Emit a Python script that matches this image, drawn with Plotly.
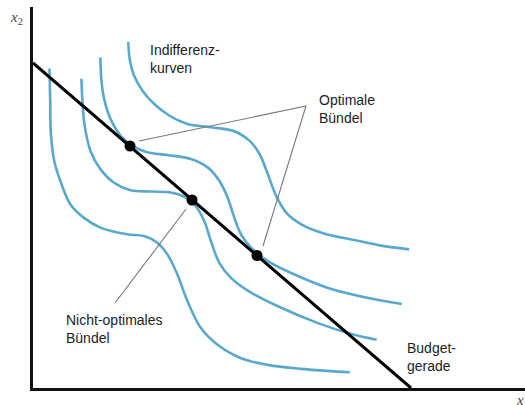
import plotly.graph_objects as go

# Indifference curves (x1, x2)
ic1_x = [16.5, 17.2, 17.9, 21.2, 27.3, 37.3, 50.7, 67.4, 94.2, 111, 124.3, 134.4, 144.4, 154.5, 167.9, 184.6, 208, 234.8, 268.3, 316.9]
ic1_y = [319.4, 287.6, 254.1, 227.3, 207.2, 183.8, 170.4, 160.4, 153.7, 152, 145.3, 133.6, 113.5, 86.7, 59.9, 43.2, 29.8, 23.1, 19.1, 15.7]
ic2_x = [48.4, 49.4, 51.4, 57.4, 67.4, 80.8, 97.6, 117.7, 137.7, 149.5, 161.2, 171.2, 177.9, 186.3, 198, 214.7, 244.9, 285, 318.5, 343.6]
ic2_y = [309.3, 287.6, 264.1, 237.3, 218.9, 205.5, 197.8, 196.5, 195.5, 192.1, 183.8, 167, 147, 125.2, 110.1, 97.4, 81.7, 64.9, 53.9, 48.2]
ic3_x = [67.4, 68.4, 71.5, 77.5, 87.5, 99.2, 114.3, 134.4, 157.8, 174.6, 186.3, 194.6, 201.3, 208, 218.1, 234.8, 261.6, 295.1, 335.3, 368.7]
ic3_y = [330.4, 307.7, 287.6, 269.1, 252.4, 242.4, 235.7, 233, 229, 220.6, 207.2, 190.5, 170.4, 153.7, 140.3, 126.9, 113.5, 100.1, 90, 84]
ic4_x = [95.2, 96.9, 100.9, 109.3, 121, 136.1, 154.5, 177.9, 201.3, 216.4, 226.5, 234.8, 243.2, 253.2, 268.3, 291.7, 318.5, 345.3, 376.1]
ic4_y = [346.2, 327.7, 312.7, 297.6, 284.2, 272.5, 264.1, 260.8, 256.8, 247.4, 234, 213.9, 192.1, 175.4, 163.7, 154.3, 148.6, 142.9, 138.6]

# Budget line endpoints
budget_x = [0, 378]
budget_y = [325, 0]

# Bundles
bundle_x = [97, 159, 224]
bundle_y = [242, 188, 132.5]

# Leader lines
opt_lead_x = [106, 273, 230]
opt_lead_y = [247, 282, 142]
nopt_lead_x = [153, 82]
nopt_lead_y = [179, 85]

BLUE = "#5BA8CE"
fig = go.Figure()
for xs, ys in [(ic1_x, ic1_y), (ic2_x, ic2_y), (ic3_x, ic3_y), (ic4_x, ic4_y)]:
    fig.add_trace(go.Scatter(x=xs, y=ys, mode="lines", line=dict(color=BLUE, width=2.6, shape="spline", smoothing=1.0),
                             hoverinfo="skip", showlegend=False))
fig.add_trace(go.Scatter(x=opt_lead_x, y=opt_lead_y, mode="lines", line=dict(color="#777", width=1.1), showlegend=False))
fig.add_trace(go.Scatter(x=nopt_lead_x, y=nopt_lead_y, mode="lines", line=dict(color="#777", width=1.1), showlegend=False))
fig.add_trace(go.Scatter(x=budget_x, y=budget_y, mode="lines", line=dict(color="#000", width=3), showlegend=False))
fig.add_trace(go.Scatter(x=bundle_x, y=bundle_y, mode="markers", marker=dict(color="#000", size=11), showlegend=False))

font = dict(family="Liberation Sans, Arial, sans-serif", size=14, color="#222")
texts = [
    (115, 329, "Indifferenz-<br>kurven"),
    (284, 279, "Optimale<br>Bündel"),
    (31, 59.5, "Nicht-optimales<br>Bündel"),
    (372, 31.5, "Budget-<br>gerade"),
]
for x, y, t in texts:
    fig.add_annotation(x=x, y=y, text=t, showarrow=False, xanchor="left", yanchor="middle", align="left", font=font)

serif = dict(family="Liberation Serif, Times New Roman, serif", size=15, color="#444")
fig.add_annotation(x=-25 / 492, y=1.0, xref="paper", yref="paper", text="<i>x</i><sub>2</sub>", showarrow=False,
                   xanchor="left", yanchor="top", font=serif)
fig.add_annotation(x=481 / 492, y=-2 / 381, xref="paper", yref="paper", text="<i>x</i><sub>1</sub>", showarrow=False,
                   xanchor="left", yanchor="top", font=serif)

fig.update_layout(
    width=525, height=405, margin=dict(l=33, r=0, t=7, b=17),
    paper_bgcolor="white", plot_bgcolor="white",
    xaxis=dict(range=[0, 492], showgrid=False, zeroline=False, showticklabels=False, ticks="",
               showline=True, linecolor="#111", linewidth=2.5, fixedrange=True),
    yaxis=dict(range=[0, 381], showgrid=False, zeroline=False, showticklabels=False, ticks="",
               showline=True, linecolor="#111", linewidth=2.5, fixedrange=True),
)
fig.write_html("out.html", config={"displayModeBar": False},
               post_script="document.body.style.margin='0';document.body.style.overflow='hidden';")
